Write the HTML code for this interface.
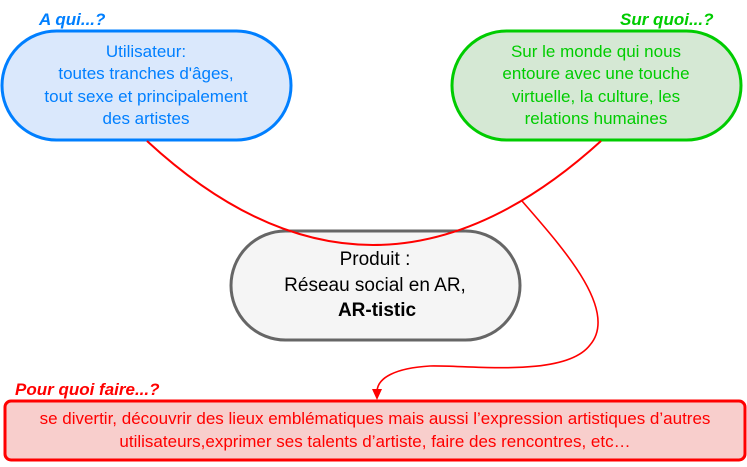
<!DOCTYPE html>
<html><head><meta charset="utf-8"><style>
html,body{margin:0;padding:0;background:#fff}
svg text{font-family:"Liberation Sans",sans-serif}
</style></head><body>
<svg width="747" height="462" viewBox="0 0 747 462" xmlns="http://www.w3.org/2000/svg">
<rect x="2" y="31" width="289" height="109" rx="54.5" fill="#dae8fc" stroke="#007fff" stroke-width="3"/>
<rect x="452" y="31" width="289" height="109" rx="54.5" fill="#d5e8d4" stroke="#00cc00" stroke-width="3"/>
<rect x="231" y="231" width="289" height="109" rx="54.5" fill="#f5f5f5" stroke="#666" stroke-width="3"/>
<rect x="5" y="401" width="740" height="59" rx="6" fill="#f8cecc" stroke="#ff0000" stroke-width="3"/>
<path d="M147,141 Q372,349 601,141" fill="none" stroke="#ff0000" stroke-width="2"/>
<path d="M522,201 C560,245 620,310 590,345 C565,378 470,365 430,366 C395,368 377,378 377,392" fill="none" stroke="#ff0000" stroke-width="1.6"/>
<path d="M372,389 L377,400 L382,389 Z" fill="#ff0000"/>
<g font-size="17" text-anchor="middle" fill="#007fff">
<text x="146" y="57">Utilisateur:</text>
<text x="146" y="79">toutes tranches d'âges,</text>
<text x="146" y="102">tout sexe et principalement</text>
<text x="146" y="124">des artistes</text>
</g>
<g font-size="17" text-anchor="middle" fill="#00cc00">
<text x="596" y="57">Sur le monde qui nous</text>
<text x="596" y="79">entoure avec une touche</text>
<text x="596" y="102">virtuelle, la culture, les</text>
<text x="596" y="124">relations humaines</text>
</g>
<g font-size="19" text-anchor="middle" fill="#000">
<text x="375" y="265">Produit :</text>
<text x="375" y="291">Réseau social en AR,</text>
<text x="377" y="316" font-weight="bold">AR-tistic</text>
</g>
<g font-size="17" text-anchor="middle" fill="#ff0000">
<text x="375" y="424">se divertir, découvrir des lieux emblématiques mais aussi l’expression artistiques d’autres</text>
<text x="375" y="447">utilisateurs,exprimer ses talents d’artiste, faire des rencontres, etc…</text>
</g>
<g font-size="17" font-weight="bold" font-style="italic">
<text x="39" y="25" fill="#007fff">A qui...?</text>
<text x="620" y="25" fill="#00cc00">Sur quoi...?</text>
<text x="15" y="395" fill="#ff0000">Pour quoi faire...?</text>
</g>
</svg>
</body></html>
